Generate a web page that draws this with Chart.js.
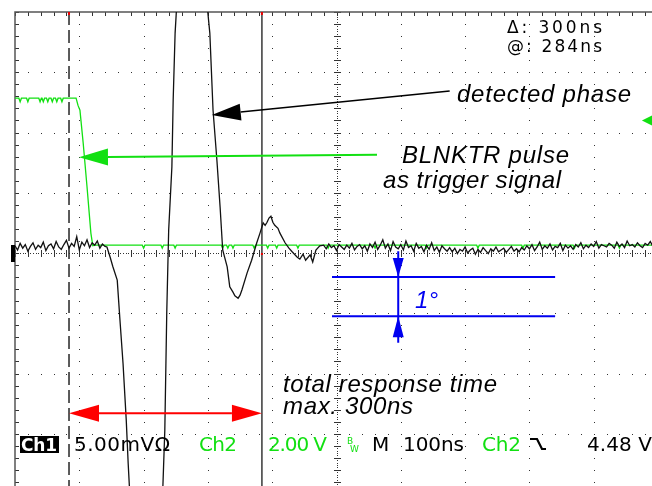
<!DOCTYPE html>
<html lang="en">
<head>
<meta charset="UTF-8">
<title>Phase detector response</title>
<script src="https://cdn.jsdelivr.net/npm/chart.js"></script>
<style>
  html, body { margin: 0; padding: 0; overflow: hidden; background: #fff; }
  canvas { display: block; }
</style>
</head>
<body>
<canvas id="scope" width="680" height="510"></canvas>
<script>
// time axis 0..1000 ns (100 ns/div), vertical axis -4..4 div
const sampleStepNs = 4;

// Ch1 (detected phase) noise before the pulse, one sample every 4 ns from 0 ns
const ch1LeadNoise = [0.12, 0.05, 0.16, 0.08, 0.14, 0.03, 0.11, 0.17, 0.06, 0.13,
  0.09, 0.18, 0.04, 0.12, 0.15, 0.07, 0.19, 0.10, 0.06, 0.14,
  0.21, 0.08, 0.16, 0.11, 0.27, 0.05, 0.18, 0.12, 0.22, 0.09,
  0.17, 0.13, 0.20, 0.08, 0.15, 0.11];

// Ch1 pulse (ns / div), goes off screen at both extremes
const ch1PulseTimes = [143, 148, 152, 159, 163, 168, 173, 176, 179,
  185, 195, 205, 215, 222, 228,
  230, 233, 236, 239, 244, 246, 249, 252,
  262, 275, 288, 296,
  300, 303, 308, 314, 319, 323,
  330, 334, 339, 342, 347, 350, 353, 361, 368,
  376, 381, 386, 389, 392, 395, 398, 401, 404, 409, 412,
  420, 426, 431, 439, 443, 448, 452, 459, 463, 468, 474];
const ch1PulseValues = [0.10, -0.07, -0.22, -0.45, -1.08, -1.83, -2.77, -3.49, -4.10,
  -5.3, -6.6, -7.0, -6.5, -5.5, -4.3,
  -3.87, -2.94, -1.00, 0.38, 1.43, 2.54, 3.65, 4.20,
  6.0, 7.0, 6.2, 4.8,
  3.98, 3.65, 2.37, 1.54, 0.76, 0.05,
  -0.23, -0.56, -0.65, -0.71, -0.75, -0.70, -0.61, -0.33, -0.12,
  0.17, 0.33, 0.50, 0.46, 0.51, 0.58, 0.61, 0.51, 0.46, 0.41, 0.33,
  0.17, 0.08, 0.02, -0.07, -0.10, -0.02, -0.12, -0.03, -0.15, 0.05, 0.12];

// Ch1 noise after the pulse, one sample every 4 ns from 480 ns
const ch1TailStart = 480;
const ch1TailNoise = [0.13, 0.07, 0.15, 0.09, 0.12, 0.04, 0.14, 0.10, 0.06, 0.13,
  0.08, 0.16, 0.05, 0.11, 0.14, 0.07, 0.12, 0.03, 0.15, 0.09,
  0.18, 0.06, 0.13, 0.22, 0.08, 0.15, 0.04, 0.19, 0.10, 0.07,
  0.14, 0.05, 0.20, 0.09, 0.12, 0.03, 0.16, 0.08, 0.11, 0.02,
  0.13, 0.06, 0.17, 0.04, 0.10, 0.01, 0.12, 0.07, 0.03, 0.09,
  0.02, 0.08, -0.01, 0.06, 0.03, 0.10, 0.00, 0.05, 0.08, -0.02,
  0.06, 0.01, 0.09, 0.04, -0.01, 0.07, 0.03, 0.10, 0.02, 0.05,
  0.08, 0.01, 0.06, 0.11, 0.03, 0.07, 0.02, 0.09, 0.05, 0.12,
  0.07, 0.14, 0.04, 0.10, 0.18, 0.06, 0.12, 0.08, 0.15, 0.05,
  0.11, 0.09, 0.16, 0.04, 0.13, 0.08, 0.12, 0.06, 0.14, 0.10,
  0.17, 0.07, 0.13, 0.09, 0.15, 0.11, 0.19, 0.08, 0.14, 0.12,
  0.10, 0.16, 0.13, 0.08, 0.18, 0.11, 0.15, 0.09, 0.20, 0.12,
  0.14, 0.10, 0.17, 0.12, 0.09, 0.16, 0.13, 0.19, 0.11, 0.15,
  0.13];

// Ch2 (BLNKTR trigger pulse), ns / div
const ch2Times = [0, 6, 8, 10, 18, 20, 22, 37, 39, 41, 42, 44, 46, 49, 51, 53,
  56, 58, 60, 63, 65, 67, 71, 73, 75,
  95, 98, 101, 106, 112, 118, 121, 124,
  198, 200, 202, 227, 229, 231, 247, 249, 251, 321, 323, 325, 329, 331, 333,
  337, 339, 341, 370, 372, 374, 391, 393, 395, 405, 407, 409, 438, 440, 442,
  485, 487, 489, 558, 560, 562, 638, 640, 642, 718, 720, 722, 788, 790, 792,
  868, 870, 872, 938, 940, 942, 1000];
const ch2Values = [2.57, 2.57, 2.51, 2.57, 2.57, 2.51, 2.57, 2.57, 2.51, 2.57,
  2.57, 2.51, 2.57, 2.57, 2.51, 2.57, 2.57, 2.51, 2.57, 2.57, 2.51, 2.57, 2.57, 2.51, 2.57,
  2.57, 2.45, 2.37, 1.83, 1.10, 0.33, 0.12, 0.13,
  0.13, 0.08, 0.13, 0.13, 0.08, 0.13, 0.13, 0.08, 0.13, 0.13, 0.08, 0.13, 0.13, 0.08, 0.13,
  0.13, 0.08, 0.13, 0.13, 0.08, 0.13, 0.13, 0.08, 0.13, 0.13, 0.08, 0.13, 0.13, 0.08, 0.13,
  0.13, 0.08, 0.13, 0.13, 0.08, 0.13, 0.13, 0.08, 0.13, 0.13, 0.08, 0.13, 0.13, 0.08, 0.13,
  0.13, 0.08, 0.13, 0.13, 0.08, 0.13, 0.13];

// time cursors (ns)
const cursorA = 84, cursorB = 384;

// ---- build point lists ----
const ch1Points = [];
ch1LeadNoise.forEach((v, i) => ch1Points.push({ x: i * sampleStepNs, y: v }));
ch1PulseTimes.forEach((t, i) => ch1Points.push({ x: t, y: ch1PulseValues[i] }));
ch1TailNoise.forEach((v, i) => ch1Points.push({ x: ch1TailStart + i * sampleStepNs, y: v }));
const ch2Points = ch2Times.map((t, i) => ({ x: t, y: ch2Values[i] }));

const GREEN = '#12e012';
const SCOPE_FONT = '"DejaVu Sans", Verdana, sans-serif';

function fitText(ctx, str, x, y, w) {
  ctx.letterSpacing = '0px';
  const m = ctx.measureText(str).width;
  const n = Array.from(str).length;
  if ('letterSpacing' in ctx && n > 1) ctx.letterSpacing = ((w - m) / (n - 1)) + 'px';
  ctx.fillText(str, x, y);
  ctx.letterSpacing = '0px';
}

function arrowHead(ctx, tipX, tipY, fromX, fromY, len, half) {
  const ang = Math.atan2(tipY - fromY, tipX - fromX);
  const bx = tipX - len * Math.cos(ang), by = tipY - len * Math.sin(ang);
  const nx = -Math.sin(ang) * half, ny = Math.cos(ang) * half;
  ctx.beginPath();
  ctx.moveTo(tipX, tipY);
  ctx.lineTo(bx + nx, by + ny);
  ctx.lineTo(bx - nx, by - ny);
  ctx.closePath();
  ctx.fill();
  return [bx, by];
}

// graticule + cursors under the traces
const graticule = {
  id: 'graticule',
  beforeDatasetsDraw(chart) {
    const { ctx, chartArea: a, scales: { x, y } } = chart;
    ctx.save();
    ctx.fillStyle = '#333';
    // dotted division lines, a dot every 1/5 div
    for (let d = 1; d < 10; d++) {
      if (d === 5) continue;
      const px = Math.round(x.getPixelForValue(d * 100));
      for (let s = -20; s <= 20; s++) ctx.fillRect(px, Math.round(y.getPixelForValue(s * 0.2)), 1, 1);
    }
    for (let d = -3; d <= 3; d++) {
      if (d === 0) continue;
      const py = Math.round(y.getPixelForValue(d));
      for (let s = 0; s <= 50; s++) ctx.fillRect(Math.round(x.getPixelForValue(s * 20)), py, 1, 1);
    }
    // centre lines, dense dots with ticks
    const cx = Math.round(x.getPixelForValue(500));
    const cy = Math.round(y.getPixelForValue(0));
    for (let s = -100; s <= 100; s++) ctx.fillRect(cx, Math.round(y.getPixelForValue(s * 0.04)), 1, 1);
    for (let s = -20; s <= 20; s++) ctx.fillRect(cx - 3, Math.round(y.getPixelForValue(s * 0.2)), 7, 1);
    for (let s = 0; s <= 250; s++) ctx.fillRect(Math.round(x.getPixelForValue(s * 4)), cy, 1, 1);
    for (let s = 0; s <= 50; s++) ctx.fillRect(Math.round(x.getPixelForValue(s * 20)), cy - 3, 1, 7);
    // border ticks
    for (let s = 0; s <= 50; s++) ctx.fillRect(Math.round(x.getPixelForValue(s * 20)), a.top, 1, 4);
    for (let s = -20; s <= 20; s++) ctx.fillRect(a.left, Math.round(y.getPixelForValue(s * 0.2)), 4, 1);
    // border
    ctx.strokeStyle = '#555';
    ctx.lineWidth = 1.5;
    ctx.strokeRect(a.left, a.top, a.width, a.height);

    // cursors
    const xa = x.getPixelForValue(cursorA), xb = x.getPixelForValue(cursorB);
    ctx.strokeStyle = '#333';
    ctx.lineWidth = 1.6;
    ctx.setLineDash([13, 5]);
    ctx.beginPath(); ctx.moveTo(xa, a.top); ctx.lineTo(xa, a.bottom); ctx.stroke();
    ctx.setLineDash([]);
    ctx.strokeStyle = '#444';
    ctx.beginPath(); ctx.moveTo(xb, a.top); ctx.lineTo(xb, a.bottom); ctx.stroke();
    ctx.fillStyle = '#e00';
    ctx.fillRect(xa - 1, a.top, 2, 3);
    ctx.fillRect(xb - 1, a.top, 2, 3);
    ctx.fillRect(xb - 1, cy, 2, 2);
    ctx.restore();
  },
  afterDatasetsDraw(chart) {
    const { ctx, chartArea: a, scales: { x, y } } = chart;
    const X = t => x.getPixelForValue(t), Y = v => y.getPixelForValue(v);
    ctx.save();

    // channel ground marker and trigger level marker
    ctx.fillStyle = '#000';
    ctx.fillRect(a.left - 4, Y(0) - 8, 4, 17);
    ctx.fillStyle = GREEN;
    ctx.beginPath();
    ctx.moveTo(X(975), Y(2.2)); ctx.lineTo(a.right, Y(2.2) - 8); ctx.lineTo(a.right, Y(2.2) + 8);
    ctx.closePath(); ctx.fill();

    // black arrow: detected phase
    ctx.fillStyle = ctx.strokeStyle = '#000';
    ctx.lineWidth = 1.5;
    let tail = [X(676), Y(2.69)], tip = [X(306), Y(2.29)];
    let base = arrowHead(ctx, tip[0], tip[1], tail[0], tail[1], 29, 8.5);
    ctx.beginPath(); ctx.moveTo(tail[0], tail[1]); ctx.lineTo(base[0], base[1]); ctx.stroke();

    // green arrow: trigger pulse
    ctx.fillStyle = ctx.strokeStyle = GREEN;
    ctx.lineWidth = 2;
    tail = [X(563), Y(1.63)]; tip = [X(99.5), Y(1.59)];
    base = arrowHead(ctx, tip[0], tip[1], tail[0], tail[1], 29, 8.5);
    ctx.beginPath(); ctx.moveTo(tail[0], tail[1]); ctx.lineTo(base[0], base[1]); ctx.stroke();

    // red double arrow between cursors
    ctx.fillStyle = ctx.strokeStyle = '#f00';
    const ry = Y(-2.66);
    const b1 = arrowHead(ctx, X(cursorA), ry, X(cursorB), ry, 30, 8.5);
    const b2 = arrowHead(ctx, X(cursorB), ry, X(cursorA), ry, 30, 8.5);
    ctx.beginPath(); ctx.moveTo(b1[0], ry); ctx.lineTo(b2[0], ry); ctx.stroke();

    // blue 1 degree scale
    ctx.fillStyle = ctx.strokeStyle = '#0000f0';
    ctx.lineWidth = 2;
    const y1 = Y(-0.40), y2 = Y(-1.05), bx = X(596);
    ctx.beginPath();
    ctx.moveTo(X(493), y1); ctx.lineTo(X(840), y1);
    ctx.moveTo(X(493), y2); ctx.lineTo(X(840), y2);
    ctx.moveTo(bx, Y(0.03)); ctx.lineTo(bx, Y(-1.49));
    ctx.stroke();
    arrowHead(ctx, bx, y1, bx, y1 - 30, 19, 5.5);
    arrowHead(ctx, bx, y2, bx, y2 + 30, 21, 5.5);

    // annotation texts
    ctx.textBaseline = 'alphabetic';
    ctx.textAlign = 'left';
    ctx.fillStyle = '#000';
    ctx.font = 'italic 24px "Liberation Sans", Arial, sans-serif';
    fitText(ctx, 'detected phase', 457, 102, 174);
    fitText(ctx, 'BLNKTR pulse', 402, 163, 167);
    fitText(ctx, 'as trigger signal', 383, 188, 178);
    fitText(ctx, 'total response time', 283, 392, 214);
    fitText(ctx, 'max. 300ns', 283, 414, 130);
    ctx.fillStyle = '#0000f0';
    fitText(ctx, '1°', 415, 308, 23);

    // cursor readout
    ctx.fillStyle = '#000';
    ctx.font = '17px ' + SCOPE_FONT;
    fitText(ctx, 'Δ: 300ns', 507, 33, 95);
    fitText(ctx, '@: 284ns', 507, 52, 95);

    // status line
    ctx.fillStyle = '#000';
    ctx.fillRect(20, 436, 39, 17);
    ctx.font = 'bold 17px ' + SCOPE_FONT;
    ctx.fillStyle = '#fff';
    fitText(ctx, 'Ch1', 21, 451, 36);
    ctx.font = '20px ' + SCOPE_FONT;
    ctx.fillStyle = '#000';
    fitText(ctx, '5.00mVΩ', 74, 451, 96);
    fitText(ctx, 'M', 372, 451, 15);
    fitText(ctx, '100ns', 403, 451, 61);
    fitText(ctx, '4.48 V', 587, 451, 65);
    ctx.fillStyle = GREEN;
    fitText(ctx, 'Ch2', 199, 451, 38);
    fitText(ctx, '2.00 V', 268, 451, 59);
    fitText(ctx, 'Ch2', 482, 451, 39);
    ctx.font = '9px ' + SCOPE_FONT;
    ctx.fillText('B', 347, 444);
    ctx.fillText('W', 350, 452);
    // falling edge symbol
    ctx.strokeStyle = '#000';
    ctx.lineWidth = 2.2;
    ctx.beginPath();
    ctx.moveTo(530, 439); ctx.lineTo(537, 439); ctx.lineTo(542, 449); ctx.lineTo(546, 449);
    ctx.stroke();
    ctx.restore();
  }
};

const scopeChart = new Chart(document.getElementById('scope'), {
  type: 'line',
  data: {
    datasets: [
      { label: 'Ch1', data: ch1Points, borderColor: '#111', borderWidth: 1.3, clip: 0 },
      { label: 'Ch2', data: ch2Points, borderColor: GREEN, borderWidth: 1.3, clip: 0 }
    ]
  },
  options: {
    responsive: false,
    animation: false,
    devicePixelRatio: 1,
    layout: { padding: { left: 15, top: 12, right: 22, bottom: 16 } },
    elements: { point: { radius: 0 }, line: { tension: 0 } },
    scales: {
      x: { type: 'linear', min: 0, max: 1000, display: false },
      y: { type: 'linear', min: -4, max: 4, display: false }
    },
    plugins: { legend: { display: false }, tooltip: { enabled: false } }
  },
  plugins: [graticule]
});
</script>
</body>
</html>
